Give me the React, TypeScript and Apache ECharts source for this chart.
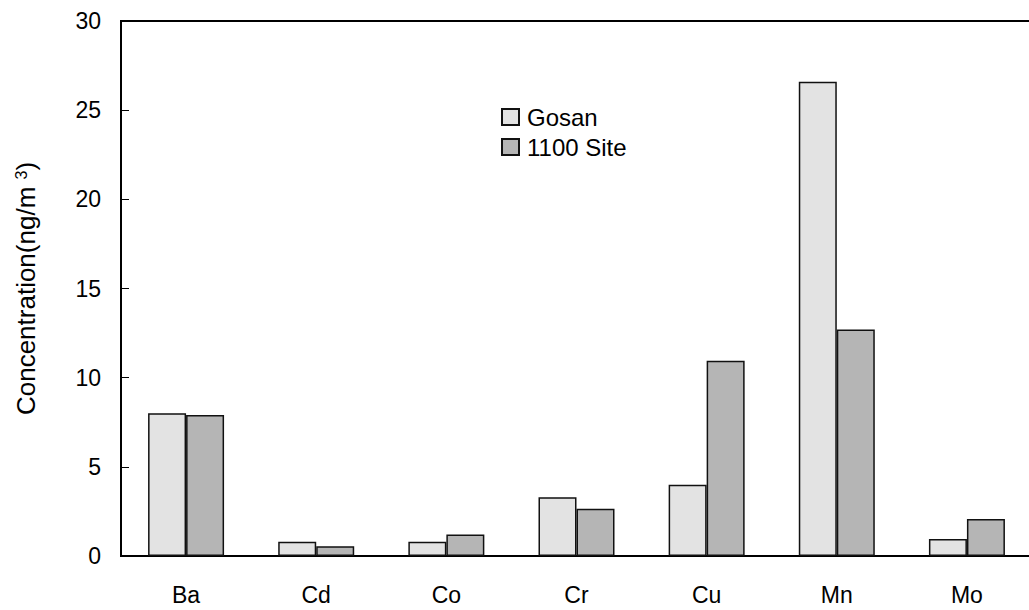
import React, { useEffect, useRef } from "react";
import * as echarts from "echarts";

const categories = ["Ba", "Cd", "Co", "Cr", "Cu", "Mn", "Mo"];
const gosan = [8.0, 0.8, 0.8, 3.3, 4.0, 26.6, 0.95];
const site1100 = [7.9, 0.55, 1.2, 2.65, 10.95, 12.7, 2.07];
const yTicks = { min: 0, max: 30, interval: 5 };

const FONT = "'Liberation Sans', Arial, Helvetica, sans-serif";

export default function App() {
  const ref = useRef<HTMLDivElement>(null);
  useEffect(() => {
    if (!ref.current) return;
    const chart = echarts.init(ref.current, null, { renderer: "svg" });
    chart.setOption({
      animation: false,
      backgroundColor: "#ffffff",
      textStyle: { fontFamily: FONT },
      grid: {
        left: 121,
        top: 21,
        bottom: 54,
        right: 13,
        show: true,
        borderColor: "#000",
        borderWidth: 2,
        backgroundColor: "transparent",
      },
      legend: {
        orient: "vertical",
        left: 501,
        top: 105,
        padding: 0,
        itemWidth: 17,
        itemHeight: 16,
        itemGap: 6,
        icon: "rect",
        textStyle: { fontFamily: FONT, fontSize: 24, color: "#000", padding: [0, 0, 0, 3] },
        data: ["Gosan", "1100 Site"],
      },
      xAxis: {
        type: "category",
        data: categories,
        boundaryGap: true,
        axisLine: { lineStyle: { color: "#000", width: 2 } },
        axisTick: { inside: true, length: 8, lineStyle: { color: "#000", width: 1 } },
        axisLabel: { fontFamily: FONT, fontSize: 23, color: "#000", margin: 27 },
      },
      yAxis: {
        type: "value",
        min: yTicks.min,
        max: yTicks.max,
        interval: yTicks.interval,
        name: "Concentration(ng/m {sup|3})",
        nameLocation: "middle",
        nameGap: 82,
        nameTextStyle: {
          fontFamily: FONT,
          fontSize: 26,
          color: "#000",
          rich: {
            sup: { fontFamily: FONT, fontSize: 16, color: "#000", verticalAlign: "top", padding: [0, 0, 10, 0] },
          },
        },
        splitLine: { show: false },
        axisLine: { show: true, lineStyle: { color: "#000", width: 2 } },
        axisTick: { show: true, inside: true, length: 8, lineStyle: { color: "#000", width: 1 } },
        axisLabel: { fontFamily: FONT, fontSize: 23, color: "#000", margin: 20 },
      },
      series: [
        {
          name: "Gosan",
          type: "bar",
          data: gosan,
          barWidth: 38,
          barGap: "0%",
          itemStyle: { color: "#e3e3e3", borderColor: "#111", borderWidth: 1.5 },
        },
        {
          name: "1100 Site",
          type: "bar",
          data: site1100,
          barWidth: 38,
          barGap: "0%",
          itemStyle: { color: "#b5b5b5", borderColor: "#111", borderWidth: 1.5 },
        },
      ],
    });
    return () => chart.dispose();
  }, []);
  return (
    <div
      style={{
        position: "fixed",
        left: 0,
        top: 0,
        width: 1029,
        height: 610,
        overflow: "hidden",
        background: "#fff",
      }}
    >
      <div ref={ref} style={{ width: 1045, height: 610 }} />
    </div>
  );
}
